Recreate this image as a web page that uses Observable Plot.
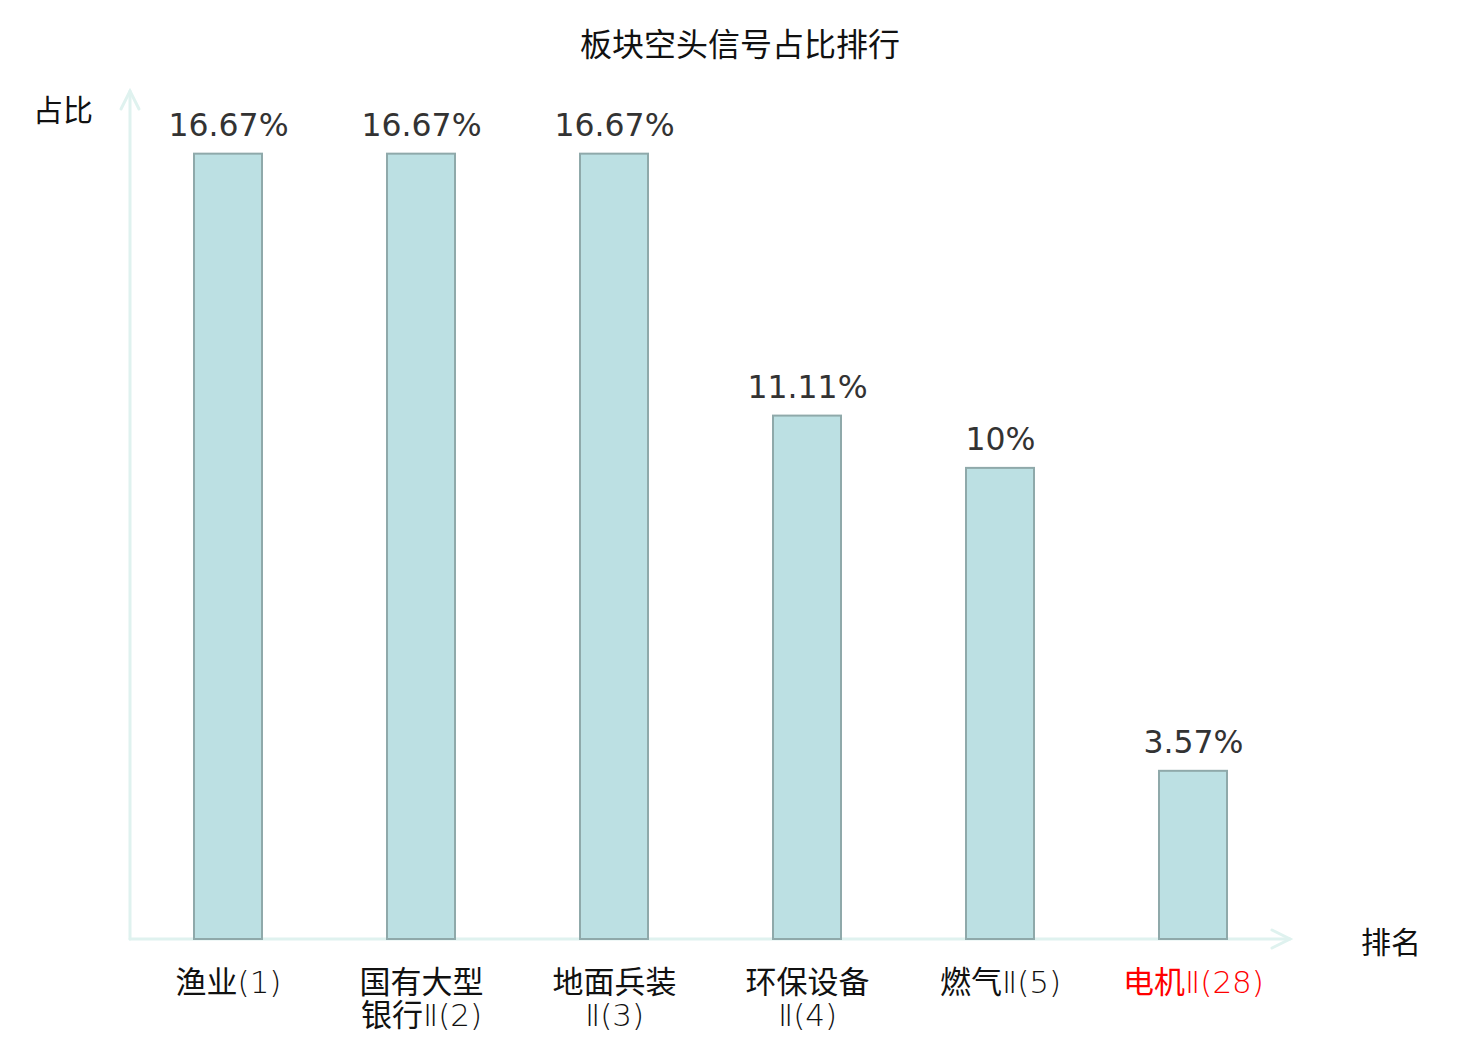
<!DOCTYPE html>
<html>
<head>
<meta charset="utf-8">
<script src="https://cdn.jsdelivr.net/npm/d3@7"></script>
<script src="https://cdn.jsdelivr.net/npm/@observablehq/plot@0.6"></script>
<style>
  html, body { margin: 0; padding: 0; background: #fff; }
  #title { height: 80px; width: 1480px; text-align: center; font-family: "Noto Sans CJK SC", sans-serif; font-size: 32px; line-height: 84px; color: #111; }
</style>
</head>
<body>
<div id="title">板块空头信号占比排行</div>
<div id="chart"></div>
<script>
const categories = ["渔业(1)", "国有大型\n银行Ⅱ(2)", "地面兵装\nⅡ(3)", "环保设备\nⅡ(4)", "燃气Ⅱ(5)", "电机Ⅱ(28)"];
const values = [16.67, 16.67, 16.67, 11.11, 10, 3.57];
const valueLabels = ["16.67%", "16.67%", "16.67%", "11.11%", "10%", "3.57%"];
const highlight = "电机Ⅱ(28)";
const yLabel = "占比";
const xLabel = "排名";

const data = categories.map((c, i) => ({cat: c, v: values[i], lab: valueLabels[i]}));

const plot = Plot.plot({
  width: 1480,
  height: 960,
  marginLeft: 130,
  marginRight: 190,
  marginTop: 11,
  marginBottom: 101,
  x: {domain: categories, paddingInner: 0.648, paddingOuter: 0.324, axis: null},
  y: {domain: [0, 18], axis: null},
  marks: [
    Plot.barY(data, {x: "cat", y: "v", fill: "#bce0e3", stroke: "#8fa9aa", strokeWidth: 2}),
    Plot.text(data, {x: "cat", y: "v", text: "lab", lineAnchor: "bottom", dy: -18, fontSize: 31.5, fill: "#333", fontFamily: "DejaVu Sans"}),
    Plot.text(data, {x: "cat", y: 0, text: "cat", lineAnchor: "top", dy: 31, fontSize: 31, lineHeight: 1.04, className: "xlab",
      fill: d => d.cat === highlight ? "#f00" : "#111", fontFamily: "Noto Sans CJK SC"})
  ]
});

// light, narrow Latin runs inside the category labels
const svg = d3.select(plot);
const runs = /[\u3400-\u9fff]+|[^\u3400-\u9fff]+/g;
svg.selectAll(".xlab text").each(function() {
  const lines = this.querySelectorAll("tspan").length ? [...this.querySelectorAll("tspan")] : [this];
  lines.forEach(n => {
    const s = n.textContent;
    n.textContent = "";
    (s.match(runs) || []).forEach(part => {
      const sp = d3.select(n).append("tspan").text(part);
      if (!/[\u3400-\u9fff]/.test(part)) sp.attr("font-family", "DejaVu Sans").attr("font-weight", 200);
    });
  });
});

// axis lines with arrowheads, drawn from the plot's scales
const xs = plot.scale("x"), ys = plot.scale("y");
const x0 = xs.range[0], x1 = xs.range[1];
const yb = ys.range[0], yt = ys.range[1];
const g = svg.insert("g", ":first-child").attr("fill", "none").attr("stroke", "#dff2ef").attr("stroke-width", 3).attr("stroke-linecap", "round");
g.append("path").attr("d", `M${x0},${yb}V${yt}`);
g.append("path").attr("d", `M${x0 - 9},${yt + 18}L${x0},${yt}L${x0 + 9},${yt + 18}`);
g.append("path").attr("d", `M${x0},${yb}H${x1}`);
g.append("path").attr("d", `M${x1 - 18},${yb - 9}L${x1},${yb}L${x1 - 18},${yb + 9}`);
svg.append("text").attr("x", x0 - 67).attr("y", yt + 22).attr("text-anchor", "middle").attr("dominant-baseline", "middle")
  .attr("font-family", "Noto Sans CJK SC").attr("font-size", 30).attr("fill", "#111").text(yLabel);
svg.append("text").attr("x", x1 + 101).attr("y", yb + 6).attr("text-anchor", "middle").attr("dominant-baseline", "middle")
  .attr("font-family", "Noto Sans CJK SC").attr("font-size", 30).attr("fill", "#111").text(xLabel);

document.getElementById("chart").appendChild(plot);
</script>
</body>
</html>
